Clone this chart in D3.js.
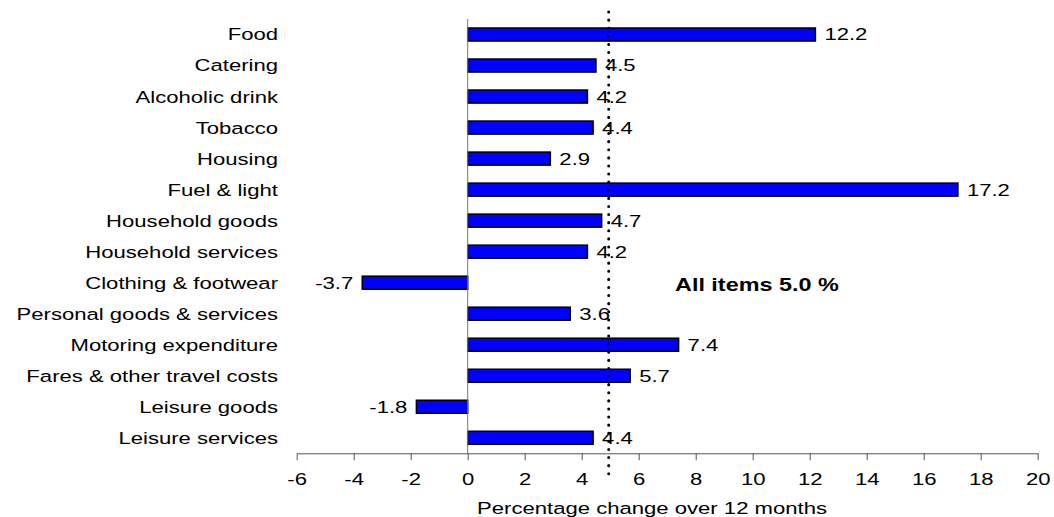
<!DOCTYPE html>
<html>
<head>
<meta charset="utf-8">
<script src="https://cdn.jsdelivr.net/npm/d3@7"></script>
<style>
  body { margin: 0; background: #fff; }
  text { font-family: "Liberation Sans", Arial, sans-serif; }
</style>
</head>
<body>
<div id="chart"></div>
<script>
// 12-month price changes by group
var categories = ["Food", "Catering", "Alcoholic drink", "Tobacco", "Housing", "Fuel & light",
  "Household goods", "Household services", "Clothing & footwear", "Personal goods & services",
  "Motoring expenditure", "Fares & other travel costs", "Leisure goods ", "Leisure services"];
var values = [12.2, 4.5, 4.2, 4.4, 2.9, 17.2, 4.7, 4.2, -3.7, 3.6, 7.4, 5.7, -1.8, 4.4];
var xTicks = [-6, -4, -2, 0, 2, 4, 6, 8, 10, 12, 14, 16, 18, 20];
var allItems = 5.0;

var W = 1054, H = 517;
var plotLeft = 296.7, plotRight = 1037.7, plotTop = 19, plotBottom = 453.3;
var sx = 1.3; // the original text is stretched sideways

var svg = d3.select("#chart").append("svg")
  .attr("width", W)
  .attr("height", H);

var x = d3.scaleLinear()
  .domain([-6, 20])
  .range([plotLeft, plotRight]);

var y = d3.scaleBand()
  .domain(categories)
  .range([plotTop, plotBottom])
  .paddingInner(0.58)
  .paddingOuter(0.29);

function place(px, py) {
  return "translate(" + px + "," + py + ") scale(" + sx + ",1)";
}

// bottom axis
var xAxis = svg.append("g")
  .attr("transform", "translate(0," + plotBottom + ")")
  .call(d3.axisBottom(x).tickValues(xTicks).tickFormat(d => String(d))
    .tickSize(7).tickSizeOuter(0).tickPadding(10));
xAxis.select(".domain").attr("stroke", "#555");
xAxis.selectAll(".tick line").attr("stroke", "#555");
xAxis.selectAll("text")
  .attr("y", 0).attr("dy", "0.35em")
  .attr("transform", "translate(0,26) scale(" + sx + ",1)")
  .style("font-size", "17px")
  .style("font-family", "'Liberation Sans', Arial, sans-serif")
  .attr("fill", "#000");

svg.append("text")
  .attr("transform", place(652, 508))
  .attr("dy", "0.35em")
  .style("text-anchor", "middle")
  .style("font-size", "17px")
  .text("Percentage change over 12 months");

// category labels
svg.selectAll(".cat")
  .data(categories)
  .enter().append("text")
    .attr("class", "cat")
    .attr("transform", d => place(278, y(d) + y.bandwidth() / 2))
    .attr("dy", "0.35em")
    .style("text-anchor", "end")
    .style("font-size", "17px")
    .text(d => d);

// bars
svg.selectAll(".bar")
  .data(values)
  .enter().append("rect")
    .attr("class", "bar")
    .attr("x", d => x(Math.min(0, d)))
    .attr("width", d => Math.abs(x(d) - x(0)))
    .attr("y", (d, i) => y(categories[i]))
    .attr("height", y.bandwidth())
    .style("fill", "#0000ff")
    .attr("stroke", "#000")
    .attr("stroke-width", 1.5);

// zero line
svg.append("line")
  .attr("x1", x(0)).attr("x2", x(0))
  .attr("y1", plotTop).attr("y2", plotBottom)
  .attr("stroke", "#777")
  .attr("stroke-width", 1);

// value labels
svg.selectAll(".val")
  .data(values)
  .enter().append("text")
    .attr("class", "val")
    .attr("transform", (d, i) => place(d < 0 ? x(d) - 9 : x(d) + 9, y(categories[i]) + y.bandwidth() / 2))
    .attr("dy", "0.35em")
    .style("text-anchor", d => d < 0 ? "end" : "start")
    .style("font-size", "17px")
    .text(d => d.toFixed(1));

// all items reference line
svg.append("line")
  .attr("x1", x(allItems) - 1.5).attr("x2", x(allItems) - 1.5)
  .attr("y1", 12).attr("y2", 480)
  .attr("stroke", "#000")
  .attr("stroke-width", 3)
  .attr("stroke-linecap", "round")
  .attr("stroke-dasharray", "0.1,8");

svg.append("text")
  .attr("transform", place(675, 285))
  .attr("dy", "0.35em")
  .style("font-size", "18px")
  .style("font-weight", "bold")
  .text("All items " + allItems.toFixed(1) + " %");
</script>
</body>
</html>
